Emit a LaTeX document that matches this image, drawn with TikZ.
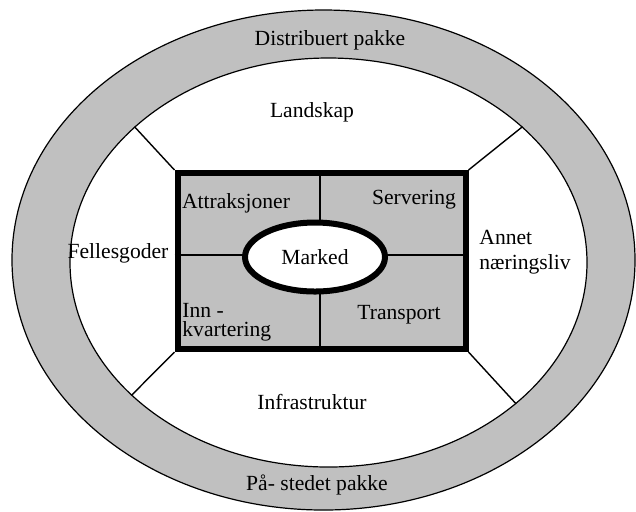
\documentclass[tikz,border=0pt]{standalone}
\usepackage{fontspec}
\setmainfont{Liberation Serif}
\usetikzlibrary{shapes.geometric}
\definecolor{pakkegraa}{HTML}{C0C0C0}

\begin{document}
\begin{tikzpicture}[x=0.5pt,y=-0.5pt,
      font=\fontsize{10.8}{12.5}\selectfont,
      oval/.style={ellipse,draw,inner sep=0pt,line width=0.6pt},
      skille/.style={line width=0.7pt},
      lbl/.style={inner sep=1pt,align=center}]
    \useasboundingbox (0,0) rectangle (636,511);

    \node[oval,fill=pakkegraa,minimum width=311.5pt,minimum height=250pt] (ytre) at (323.5,260) {};
    \node[oval,fill=white,minimum width=258.5pt,minimum height=204.5pt] (indre) at (328.5,262.5) {};

    \node[draw,fill=pakkegraa,line width=3pt,inner sep=0pt,
          minimum width=144pt,minimum height=88pt] (felt) at (321.5,261) {};
    \draw[skille] (felt.north west) -- (indre.145.5);
    \draw[skille] (felt.north east) -- (indre.35.1);
    \draw[skille] (felt.south west) -- (indre.214.8);
    \draw[skille] (felt.south east) -- (indre.323.9);

    \coordinate (midt) at (320,255);
    \draw[skille] (felt.north -| midt) -- (felt.south -| midt);
    \draw[skille] (felt.west |- midt) -- (felt.east |- midt);
    \node[oval,fill=white,line width=3pt,minimum width=70pt,minimum height=34.5pt] (marked) at (315,257) {Marked};

    \node[lbl] (distribuert) at (330,40) {Distribuert pakke};
    \node[lbl] (landskap) at (312,112) {Landskap};
    \node[lbl] (attraksjoner) at (236,203) {Attraksjoner};
    \node[lbl] (servering) at (414,200) {Servering};
    \node[lbl,align=left,anchor=west,font=\fontsize{10.8}{9.5}\selectfont] (inn) at (180,322) {Inn -\\kvartering};
    \node[lbl] (transport) at (399,315) {Transport};
    \node[lbl] (fellesgoder) at (118,253) {Fellesgoder};
    \node[lbl,align=left,anchor=west] (annet) at (477,252) {Annet\\næringsliv};
    \node[lbl] (infrastruktur) at (312,402) {Infrastruktur};
    \node[lbl] (paastedet) at (317,485) {På- stedet pakke};
  \end{tikzpicture}
\end{document}
